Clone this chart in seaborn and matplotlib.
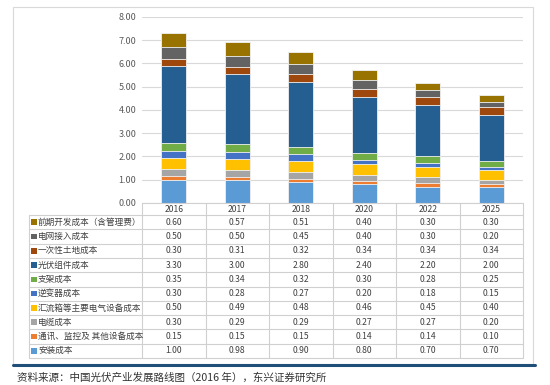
import matplotlib
matplotlib.use("Agg")
import matplotlib.pyplot as plt
import seaborn as sns
import numpy as np
import pandas as pd
from matplotlib.patches import Rectangle
from matplotlib.lines import Line2D

sns.set_theme(style="white")
plt.rcParams['font.family'] = ['Noto Sans CJK SC', 'DejaVu Sans']

years = ["2016", "2017", "2018", "2020", "2022", "2025"]
# bottom -> top
series = ["安装成本", "通讯、监控及 其他设备成本", "电缆成本", "汇流箱等主要电气设备成本",
          "逆变器成本", "支架成本", "光伏组件成本", "一次性土地成本", "电网接入成本",
          "前期开发成本（含管理费）"]
anzhuang = [1.00, 0.98, 0.90, 0.80, 0.70, 0.70]
tongxun = [0.15, 0.15, 0.15, 0.14, 0.14, 0.10]
dianlan = [0.30, 0.29, 0.29, 0.27, 0.27, 0.20]
huiliu = [0.50, 0.49, 0.48, 0.46, 0.45, 0.40]
nibian = [0.30, 0.28, 0.27, 0.20, 0.18, 0.15]
zhijia = [0.35, 0.34, 0.32, 0.30, 0.28, 0.25]
zujian = [3.30, 3.00, 2.80, 2.40, 2.20, 2.00]
tudi = [0.30, 0.31, 0.32, 0.34, 0.34, 0.34]
dianwang = [0.50, 0.50, 0.45, 0.40, 0.30, 0.20]
qianqi = [0.60, 0.57, 0.51, 0.40, 0.30, 0.30]
values = [anzhuang, tongxun, dianlan, huiliu, nibian, zhijia, zujian, tudi, dianwang, qianqi]
colors = ["#5B9BD5", "#ED7D31", "#A5A5A5", "#FFC000", "#4472C4", "#70AD47",
          "#255E91", "#9E480E", "#636363", "#997300"]
yticks = [0, 1, 2, 3, 4, 5, 6, 7, 8]

W, H = 550, 385
fig = plt.figure(figsize=(W / 100, H / 100), dpi=100)
fig.patch.set_facecolor("white")

L, R, T, B = 142, 523, 17, 203
ax = fig.add_axes([L / W, 1 - B / H, (R - L) / W, (B - T) / H])

cum = np.cumsum(np.array(values), axis=0)
for i in range(len(series) - 1, -1, -1):
    df = pd.DataFrame({"year": years, "v": cum[i]})
    sns.barplot(data=df, x="year", y="v", color=colors[i], width=0.4,
                edgecolor="#F2F2F2", linewidth=0.6, ax=ax, saturation=1, zorder=3)

ax.set_ylim(0, 8)
ax.set_xlim(-0.5, 5.5)
ax.set_yticks(yticks)
ax.set_yticklabels([f"{t:.2f}" for t in yticks], fontsize=6.5, color="#595959")
ax.tick_params(axis="y", length=0, pad=4)
ax.set_xticks([])
ax.set_xlabel("")
ax.set_ylabel("")
ax.grid(axis="y", color="#D9D9D9", linewidth=0.8, zorder=0)
ax.set_axisbelow(True)
for s in ax.spines.values():
    s.set_visible(False)

# overlay axes in pixel coordinates for table and frame
ov = fig.add_axes([0, 0, 1, 1], facecolor="none")
ov.set_xlim(0, W)
ov.set_ylim(H, 0)
ov.axis("off")

# outer frame
ov.add_patch(Rectangle((13, 7), 520, 357, fill=False, edgecolor="#D9D9D9", linewidth=0.8))
ov.add_line(Line2D([13, 535], [365, 365], color="#1F4E79", linewidth=2.2))

grid_c = "#D0D0D0"
col_w = (R - L) / 6
row_top = 215
row_h = 14.3
nrows = len(series)
tab_left = 29
bottom_y = row_top + nrows * row_h
# header
ov.add_line(Line2D([L, R], [B, B], color=grid_c, linewidth=0.8))
for j in range(7):
    x = L + j * col_w
    ov.add_line(Line2D([x, x], [B, bottom_y], color=grid_c, linewidth=0.8))
ov.add_line(Line2D([tab_left, tab_left], [row_top, bottom_y], color=grid_c, linewidth=0.8))
for k in range(nrows + 1):
    y = row_top + k * row_h
    ov.add_line(Line2D([tab_left, R], [y, y], color=grid_c, linewidth=0.8))
for j, yr in enumerate(years):
    ov.text(L + (j + 0.5) * col_w, (B + row_top) / 2, yr, ha="center", va="center",
            fontsize=6.2, color="#404040")

# rows: top -> bottom in table = reversed series
for k, i in enumerate(range(nrows - 1, -1, -1)):
    yc = row_top + (k + 0.5) * row_h
    ov.add_patch(Rectangle((31, yc - 2.8), 5.6, 5.6, facecolor=colors[i], edgecolor="none"))
    ov.text(38, yc, series[i], ha="left", va="center", fontsize=6.2, color="#404040")
    for j in range(6):
        ov.text(L + (j + 0.5) * col_w, yc, f"{values[i][j]:.2f}", ha="center", va="center",
                fontsize=6.2, color="#404040")

ov.text(17, 378, "资料来源：中国光伏产业发展路线图（2016 年），东兴证券研究所", ha="left",
        va="center", fontsize=7.6, color="#333333")

fig.savefig("out.png", dpi=100)
